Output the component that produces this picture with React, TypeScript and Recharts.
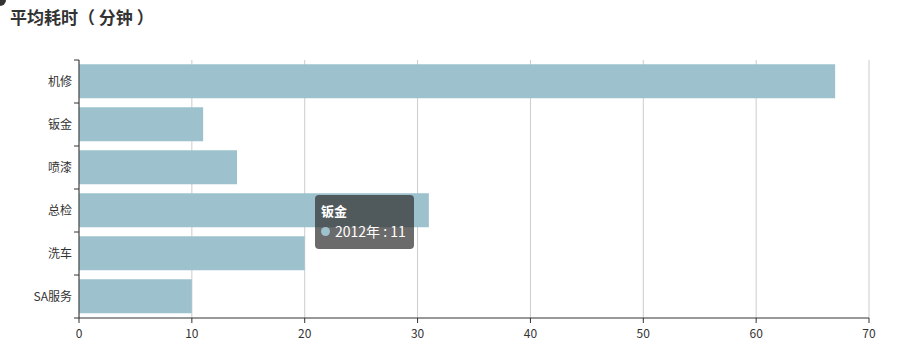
import React from 'react';
import { BarChart, Bar, XAxis, YAxis, CartesianGrid, Tooltip } from 'recharts';

const categories = ['机修', '钣金', '喷漆', '总检', '洗车', 'SA服务'];
const values2012 = [67, 11, 14, 31, 20, 10];
const xTicks = [0, 10, 20, 30, 40, 50, 60, 70];
const seriesName = '2012年';
const title = '平均耗时（ 分钟 ）';

const data = categories.map((c, i) => ({ name: c, v: values2012[i] }));

const FONT = '"Microsoft YaHei", "Noto Sans CJK SC", sans-serif';
const BAR = '#9dc2cd';

const YTick = (props: any) => {
  const { x, y, payload, index, visibleTicksCount } = props;
  const half = payload.offset || 0;
  const ax = x + 7;
  return (
    <g>
      <line x1={ax - 5} x2={ax} y1={y - half} y2={y - half} stroke="#333" />
      {index === visibleTicksCount - 1 && (
        <line x1={ax - 5} x2={ax} y1={y + half} y2={y + half} stroke="#333" />
      )}
      <text x={x} y={y} dy="0.35em" textAnchor="end" fill="#333" fontSize={12} fontFamily={FONT}>
        {payload.value}
      </text>
    </g>
  );
};

const TipContent = (props: any) => {
  const { payload, label } = props;
  if (!payload || !payload.length) return null;
  const p = payload[0];
  return (
    <div
      style={{
        background: 'rgba(50,50,50,0.72)',
        borderRadius: 4,
        padding: '6px 8px 7px 6px',
        color: '#fff',
        fontFamily: FONT,
        width: 85,
        boxSizing: 'content-box',
      }}
    >
      <div style={{ fontSize: 13, lineHeight: '20px', fontWeight: 'bold' }}>{label}</div>
      <div style={{ fontSize: 14, lineHeight: '21px', display: 'flex', alignItems: 'center' }}>
        <span
          style={{
            display: 'inline-block',
            width: 9,
            height: 9,
            borderRadius: 5,
            background: BAR,
            marginRight: 5,
          }}
        />
        {seriesName} : {p.value}
      </div>
    </div>
  );
};

export default function App() {
  return (
    <div style={{ position: 'absolute', left: 0, top: 0, width: 910, height: 356, background: '#fff' }}>
      <div
        style={{
          position: 'absolute',
          left: -6,
          top: -6,
          width: 12,
          height: 12,
          borderRadius: 6,
          background: '#333',
        }}
      />
      <div
        style={{
          position: 'absolute',
          left: 10,
          top: 4,
          fontSize: 17,
          fontWeight: 'bold',
          color: '#333',
          fontFamily: FONT,
          whiteSpace: 'pre',
          zIndex: 2,
        }}
      >
        {title}
      </div>
      <BarChart
        width={910}
        height={356}
        data={data}
        layout="vertical"
        margin={{ top: 60, right: 41, bottom: 0, left: 0 }}
        barCategoryGap="10%"
      >
        <CartesianGrid horizontal={false} vertical stroke="#ccc" />
        <XAxis
          type="number"
          domain={[0, 70]}
          ticks={xTicks}
          height={38}
          tickSize={5}
          tickMargin={6}
          axisLine={{ stroke: '#333' }}
          tickLine={{ stroke: '#333' }}
          tick={{ fill: '#333', fontSize: 12, fontFamily: FONT }}
        />
        <YAxis
          type="category"
          dataKey="name"
          width={79}
          tickSize={5}
          tickMargin={2}
          axisLine={{ stroke: '#333' }}
          tickLine={false}
          tick={<YTick />}
          interval={0}
        />
        <Tooltip
          active
          defaultIndex={1}
          cursor={false}
          position={{ x: 315, y: 195 }}
          content={<TipContent />}
          isAnimationActive={false}
          wrapperStyle={{ outline: 'none' }}
        />
        <Bar dataKey="v" name={seriesName} fill={BAR} isAnimationActive={false} />
      </BarChart>
    </div>
  );
}
